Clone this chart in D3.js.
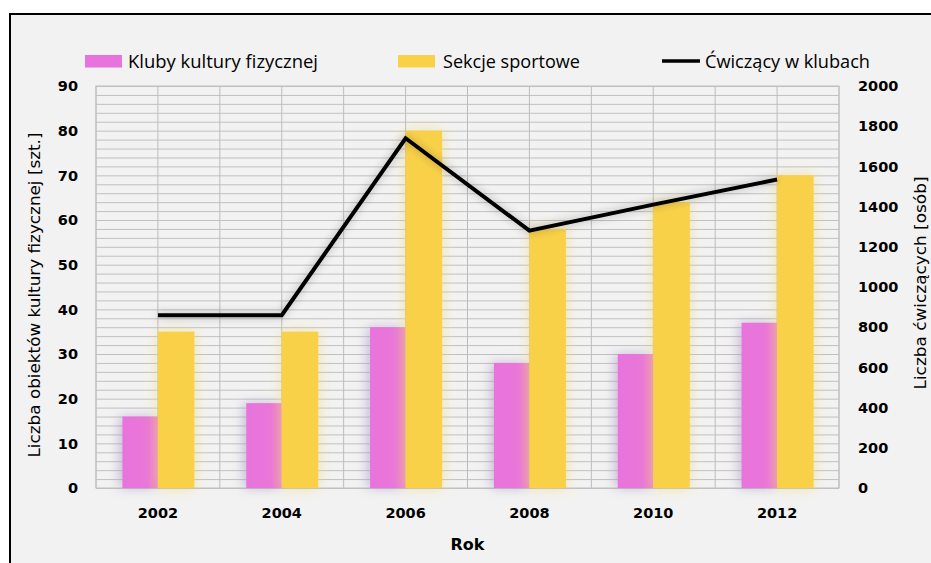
<!DOCTYPE html>
<html>
<head>
<meta charset="utf-8">
<script src="https://cdn.jsdelivr.net/npm/d3@7"></script>
<style>
  body { margin: 0; background: #fff; }
  text { fill: #000; }
</style>
</head>
<body>
<svg id="chart" width="931" height="563"></svg>
<script>
const years = ["2002", "2004", "2006", "2008", "2010", "2012"];
const kluby = [16, 19, 36, 28, 30, 37];
const sekcje = [35, 35, 80, 58, 64, 70];
const cwiczacy = [860, 860, 1740, 1280, 1410, 1535];
const leftTicks = [0, 10, 20, 30, 40, 50, 60, 70, 80, 90];
const rightTicks = [0, 200, 400, 600, 800, 1000, 1200, 1400, 1600, 1800, 2000];

const svg = d3.select("#chart");
const margins = { top: 86, left: 96, right: 92, bottom: 75 };
const chartWidth = svg.attr("width") - margins.left - margins.right;
const chartHeight = svg.attr("height") - margins.top - margins.bottom;

// frame
svg.append("rect")
  .attr("x", 10).attr("y", 14)
  .attr("width", 940).attr("height", 570)
  .attr("fill", "#f2f2f2")
  .attr("stroke", "#000").attr("stroke-width", 2);

const defs = svg.append("defs");
const pinkGrad = defs.append("linearGradient").attr("id", "pinkGrad");
pinkGrad.append("stop").attr("offset", "0%").attr("stop-color", "#e873dc");
pinkGrad.append("stop").attr("offset", "70%").attr("stop-color", "#e976d8");
pinkGrad.append("stop").attr("offset", "100%").attr("stop-color", "#ec88c4");

function glow(id, color, dx, opacity, blur) {
  const f = defs.append("filter").attr("id", id)
    .attr("x", "-60%").attr("y", "-20%").attr("width", "220%").attr("height", "140%");
  f.append("feFlood").attr("flood-color", color).attr("flood-opacity", opacity).attr("result", "c");
  f.append("feComposite").attr("in", "c").attr("in2", "SourceAlpha").attr("operator", "in").attr("result", "s");
  f.append("feOffset").attr("in", "s").attr("dx", dx).attr("dy", 0).attr("result", "o");
  f.append("feGaussianBlur").attr("in", "o").attr("stdDeviation", blur).attr("result", "b");
  const m = f.append("feMerge");
  m.append("feMergeNode").attr("in", "b");
  m.append("feMergeNode").attr("in", "SourceGraphic");
}
glow("glowY", "#f0d86e", 0, 0.6, 7);
glow("glowP", "#a995c4", -3, 0.6, 6);
glow("glowL", "#000", 0, 0.3, 4);

const x = d3.scaleBand().domain(years).range([0, chartWidth]);
const yLeft = d3.scaleLinear().domain([0, 90]).range([chartHeight, 0]);
const yRight = d3.scaleLinear().domain([0, 2000]).range([chartHeight, 0]);

const chartArea = svg.append("g")
  .attr("transform", `translate(${margins.left},${margins.top})`);

// gridlines
chartArea.append("g")
  .attr("class", "gridlines")
  .call(d3.axisLeft(yLeft).tickValues(d3.range(0, 91, 2)).tickSize(-chartWidth).tickFormat(""))
  .call(g => g.select(".domain").remove())
  .call(g => g.selectAll("line").attr("stroke", "#c0c0c0"));

const halfStep = x.bandwidth() / 2;
chartArea.append("g")
  .selectAll("line")
  .data(d3.range(0, 13))
  .join("line")
  .attr("x1", i => i * halfStep).attr("x2", i => i * halfStep)
  .attr("y1", 0).attr("y2", chartHeight)
  .attr("stroke", "#bcbcbc");

chartArea.append("rect")
  .attr("width", chartWidth).attr("height", chartHeight)
  .attr("fill", "none").attr("stroke", "#c0c0c0");

// bars
const barW = 35.5;
chartArea.append("g").selectAll("rect")
  .data(years)
  .join("rect")
  .attr("x", d => x(d) + halfStep - barW)
  .attr("y", (d, i) => yLeft(kluby[i]))
  .attr("width", barW)
  .attr("height", (d, i) => chartHeight - yLeft(kluby[i]))
  .attr("fill", "url(#pinkGrad)")
  .attr("filter", "url(#glowP)");

chartArea.append("g").selectAll("rect")
  .data(years)
  .join("rect")
  .attr("x", d => x(d) + halfStep)
  .attr("y", (d, i) => yLeft(sekcje[i]))
  .attr("width", barW + 1)
  .attr("height", (d, i) => chartHeight - yLeft(sekcje[i]))
  .attr("fill", "#f9d148")
  .attr("filter", "url(#glowY)");

// line
const line = d3.line()
  .x((d, i) => x(years[i]) + halfStep)
  .y(d => yRight(d));
chartArea.append("path")
  .datum(cwiczacy)
  .attr("d", line)
  .attr("fill", "none")
  .attr("stroke", "#000")
  .attr("stroke-width", 4)
  .attr("filter", "url(#glowL)");

// axes
const tickFont = "'DejaVu Sans', Verdana, sans-serif";
chartArea.append("g")
  .selectAll("text")
  .data(leftTicks)
  .join("text")
  .attr("x", -18)
  .attr("y", d => yLeft(d))
  .attr("dy", "0.36em")
  .attr("text-anchor", "end")
  .attr("font-family", tickFont)
  .attr("font-weight", "bold")
  .attr("font-size", 14.5)
  .text(d => d);

chartArea.append("g")
  .selectAll("text")
  .data(rightTicks)
  .join("text")
  .attr("x", chartWidth + 19)
  .attr("y", d => yRight(d))
  .attr("dy", "0.36em")
  .attr("font-family", tickFont)
  .attr("font-weight", "bold")
  .attr("font-size", 14.5)
  .text(d => d);

chartArea.append("g")
  .selectAll("text")
  .data(years)
  .join("text")
  .attr("x", d => x(d) + halfStep)
  .attr("y", chartHeight + 30)
  .attr("text-anchor", "middle")
  .attr("font-family", tickFont)
  .attr("font-weight", "bold")
  .attr("font-size", 14.5)
  .text(d => d);

// axis labels
const labels = svg.append("g").attr("class", "axis-labels")
  .attr("font-family", tickFont);
labels.append("text")
  .text("Rok")
  .attr("x", margins.left + chartWidth / 2)
  .attr("y", 550)
  .attr("text-anchor", "middle")
  .attr("font-weight", "bold")
  .attr("font-size", 16);

labels.append("text")
  .text("Liczba obiektów kultury fizycznej [szt.]")
  .attr("transform", "translate(40, 295) rotate(-90)")
  .attr("text-anchor", "middle")
  .attr("font-size", 15.5)
  .attr("textLength", 325)
  .attr("lengthAdjust", "spacingAndGlyphs");

labels.append("text")
  .text("Liczba ćwiczących [osób]")
  .attr("transform", "translate(926, 283) rotate(-90)")
  .attr("text-anchor", "middle")
  .attr("font-size", 15)
  .attr("textLength", 213)
  .attr("lengthAdjust", "spacingAndGlyphs");

// legend
const legendItems = [
  { name: "Kluby kultury fizycznej", type: "rect", color: "#e873dc", x: 85, tx: 128, tw: 190 },
  { name: "Sekcje sportowe", type: "rect", color: "#f9d148", x: 398, tx: 443, tw: 137 },
  { name: "Ćwiczący w klubach", type: "line", color: "#000", x: 662, tx: 705, tw: 165 }
];
const legend = svg.append("g").attr("class", "legend");
legendItems.forEach(item => {
  if (item.type === "rect") {
    legend.append("rect")
      .attr("x", item.x).attr("y", 55)
      .attr("width", 37).attr("height", 12.5)
      .attr("fill", item.color);
  } else {
    legend.append("line")
      .attr("x1", item.x).attr("x2", item.x + 38)
      .attr("y1", 61).attr("y2", 61)
      .attr("stroke", item.color).attr("stroke-width", 3.5);
  }
  legend.append("text")
    .attr("x", item.tx).attr("y", 68)
    .attr("font-family", "'Open Sans', sans-serif")
    .attr("font-size", 17.5)
    .attr("textLength", item.tw)
    .attr("lengthAdjust", "spacingAndGlyphs")
    .text(item.name);
});
</script>
</body>
</html>
